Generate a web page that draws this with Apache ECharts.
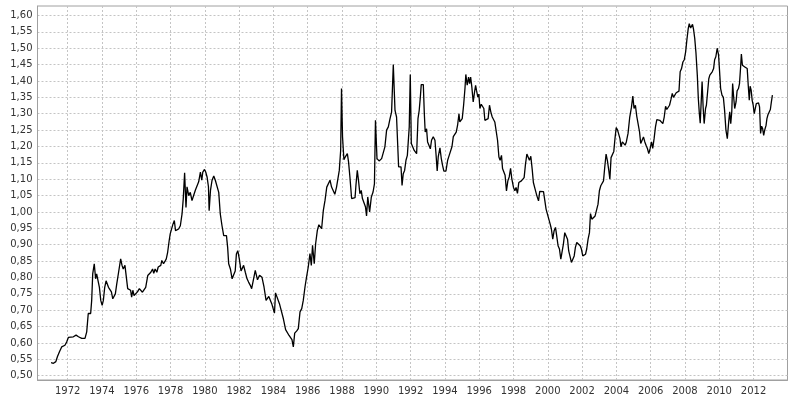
<!DOCTYPE html>
<html>
<head>
<meta charset="utf-8">
<script src="https://cdn.jsdelivr.net/npm/echarts@6/dist/echarts.min.js"></script>
<style>
  html, body { margin: 0; padding: 0; background: #fff; }
  #chart { width: 795px; height: 400px; }
</style>
</head>
<body>
<div id="chart"></div>
<script>
// tick labels
var xTicks = [1972, 1974, 1976, 1978, 1980, 1982, 1984, 1986, 1988, 1990, 1992,
  1994, 1996, 1998, 2000, 2002, 2004, 2006, 2008, 2010, 2012];
var yTicks = [0.50, 0.55, 0.60, 0.65, 0.70, 0.75, 0.80, 0.85, 0.90, 0.95, 1.00,
  1.05, 1.10, 1.15, 1.20, 1.25, 1.30, 1.35, 1.40, 1.45, 1.50, 1.55, 1.60];

// readings, decimal year / value
var years1971 = [1971.03, 1971.17, 1971.31, 1971.40, 1971.52, 1971.65, 1971.75, 1971.84, 1971.94, 1972.04,
  1972.14, 1972.33, 1972.43, 1972.49, 1972.63, 1972.72, 1972.82, 1972.92, 1973.01, 1973.11,
  1973.20, 1973.34, 1973.40, 1973.46, 1973.55, 1973.63, 1973.69, 1973.77, 1973.85, 1973.93,
  1974.01, 1974.08, 1974.16, 1974.24, 1974.30, 1974.38, 1974.46, 1974.55, 1974.63, 1974.71,
  1974.78, 1974.86, 1974.96, 1975.09, 1975.17, 1975.24, 1975.34, 1975.44, 1975.50, 1975.58,
  1975.67, 1975.73, 1975.80, 1975.87, 1975.97, 1976.07, 1976.18, 1976.26, 1976.36, 1976.45,
  1976.55, 1976.61, 1976.67, 1976.75, 1976.85, 1976.95, 1977.02, 1977.10, 1977.20, 1977.28,
  1977.36, 1977.43, 1977.49, 1977.59, 1977.67, 1977.75, 1977.83, 1977.92, 1977.98, 1978.06,
  1978.14, 1978.22, 1978.29, 1978.37, 1978.47, 1978.57, 1978.67, 1978.74, 1978.82, 1978.90,
  1978.96, 1979.06, 1979.15, 1979.25, 1979.35, 1979.45, 1979.54, 1979.64, 1979.74, 1979.82,
  1979.88, 1979.98, 1980.05, 1980.13, 1980.21, 1980.25, 1980.33, 1980.42, 1980.52, 1980.61,
  1980.71, 1980.81, 1980.90];
var rates1971 = [0.540, 0.538, 0.543, 0.558, 0.573, 0.588, 0.588, 0.593, 0.603, 0.617,
  0.619, 0.619, 0.619, 0.624, 0.619, 0.616, 0.614, 0.617, 0.614, 0.634,
  0.690, 0.690, 0.730, 0.811, 0.842, 0.796, 0.811, 0.806, 0.770, 0.730,
  0.715, 0.730, 0.770, 0.790, 0.796, 0.770, 0.766, 0.756, 0.735, 0.735,
  0.750, 0.780, 0.813, 0.857, 0.837, 0.826, 0.837, 0.832, 0.766, 0.761,
  0.761, 0.740, 0.761, 0.745, 0.750, 0.756, 0.766, 0.769, 0.755, 0.755,
  0.770, 0.773, 0.806, 0.811, 0.816, 0.826, 0.813, 0.826, 0.816, 0.832,
  0.832, 0.837, 0.852, 0.842, 0.849, 0.857, 0.877, 0.913, 0.933, 0.928,
  0.963, 0.974, 0.943, 0.938, 0.948, 0.958, 0.994, 1.040, 1.120, 1.014,
  1.077, 1.050, 1.060, 1.035, 1.030, 1.067, 1.072, 1.092, 1.122, 1.097,
  1.122, 1.130, 1.122, 1.107, 1.077, 1.004, 1.067, 1.097, 1.110, 1.097,
  1.092, 1.060, 0.994];

var years1981 = [1981.00, 1981.10, 1981.18, 1981.26, 1981.33, 1981.39, 1981.49, 1981.59, 1981.68, 1981.77,
  1981.84, 1981.92, 1982.01, 1982.11, 1982.18, 1982.26, 1982.36, 1982.46, 1982.55, 1982.65,
  1982.73, 1982.84, 1982.94, 1983.07, 1983.19, 1983.33, 1983.45, 1983.57, 1983.65, 1983.73,
  1983.84, 1983.90, 1984.00, 1984.06, 1984.12, 1984.23, 1984.35, 1984.45, 1984.58, 1984.63,
  1984.71, 1984.81, 1984.91, 1985.01, 1985.08, 1985.16, 1985.24, 1985.36, 1985.45, 1985.55,
  1985.65, 1985.74, 1985.84, 1985.93, 1986.03, 1986.13, 1986.21, 1986.28, 1986.38, 1986.46,
  1986.56, 1986.65, 1986.75, 1986.81, 1986.91, 1987.01, 1987.11, 1987.20, 1987.30, 1987.39,
  1987.49, 1987.58, 1987.68, 1987.78, 1987.84, 1987.92, 1987.97, 1988.03, 1988.11, 1988.21,
  1988.31, 1988.38, 1988.46, 1988.56, 1988.66, 1988.76, 1988.81, 1988.89, 1988.96, 1989.04,
  1989.12, 1989.19, 1989.27, 1989.37, 1989.43, 1989.50, 1989.61, 1989.71, 1989.81, 1989.89,
  1989.95, 1990.04, 1990.16];
var rates1981 = [0.958, 0.928, 0.923, 0.928, 0.892, 0.842, 0.826, 0.796, 0.796, 0.820,
  0.872, 0.882, 0.857, 0.820, 0.816, 0.837, 0.816, 0.796, 0.786, 0.776,
  0.766, 0.766, 0.822, 0.793, 0.807, 0.801, 0.771, 0.730, 0.725, 0.742,
  0.740, 0.720, 0.715, 0.691, 0.753, 0.753, 0.720, 0.715, 0.674, 0.674,
  0.641, 0.647, 0.623, 0.620, 0.610, 0.588, 0.630, 0.637, 0.644, 0.695,
  0.705, 0.730, 0.771, 0.801, 0.832, 0.873, 0.837, 0.898, 0.842, 0.903,
  0.944, 0.961, 0.962, 0.949, 1.005, 1.036, 1.076, 1.081, 1.097, 1.076,
  1.071, 1.054, 1.076, 1.081, 1.127, 1.188, 1.377, 1.229, 1.160, 1.170,
  1.178, 1.153, 1.107, 1.041, 1.044, 1.044, 1.081, 1.127, 1.097, 1.056,
  1.066, 1.041, 1.041, 1.015, 0.988, 1.046, 1.000, 1.046, 1.061, 1.086,
  1.280, 1.163, 1.156];

var years1990 = [1990.21, 1990.31, 1990.41, 1990.50, 1990.60, 1990.70, 1990.80, 1990.89, 1990.99, 1991.09,
  1991.18, 1991.24, 1991.30, 1991.38, 1991.44, 1991.50, 1991.57, 1991.65, 1991.73, 1991.81,
  1991.86, 1991.92, 1991.98, 1992.04, 1992.12, 1992.21, 1992.29, 1992.35, 1992.43, 1992.50,
  1992.56, 1992.62, 1992.74, 1992.80, 1992.85, 1992.93, 1992.99, 1993.07, 1993.15, 1993.22,
  1993.32, 1993.42, 1993.48, 1993.55, 1993.61, 1993.71, 1993.79, 1993.86, 1993.94, 1994.06,
  1994.16, 1994.25, 1994.33, 1994.41, 1994.49, 1994.58, 1994.66, 1994.74, 1994.82, 1994.87,
  1994.95, 1995.01, 1995.09, 1995.17, 1995.22, 1995.30, 1995.38, 1995.44, 1995.50, 1995.57,
  1995.65, 1995.73, 1995.79, 1995.84, 1995.92, 1995.98, 1996.04, 1996.12, 1996.19, 1996.27,
  1996.33, 1996.43, 1996.52, 1996.60, 1996.68, 1996.76, 1996.82, 1996.91, 1997.01, 1997.07,
  1997.15, 1997.22, 1997.30, 1997.36, 1997.44, 1997.51, 1997.59, 1997.67, 1997.75, 1997.83,
  1997.90, 1998.00, 1998.08, 1998.15, 1998.23, 1998.31, 1998.39, 1998.46, 1998.54, 1998.62,
  1998.70, 1998.78, 1998.85, 1998.93, 1999.01, 1999.09, 1999.16, 1999.26, 1999.36, 1999.46,
  1999.53, 1999.63, 1999.75, 1999.83, 1999.90, 1999.98];
var rates1990 = [1.160, 1.163, 1.158, 1.199, 1.250, 1.260, 1.285, 1.305, 1.450, 1.310,
  1.290, 1.285, 1.138, 1.133, 1.138, 1.081, 1.117, 1.127, 1.158, 1.173,
  1.168, 1.260, 1.420, 1.209, 1.199, 1.188, 1.183, 1.178, 1.285, 1.310,
  1.346, 1.389, 1.389, 1.300, 1.244, 1.254, 1.214, 1.219, 1.193, 1.219,
  1.230, 1.219, 1.178, 1.125, 1.168, 1.196, 1.163, 1.143, 1.125, 1.125,
  1.158, 1.173, 1.178, 1.199, 1.230, 1.234, 1.244, 1.265, 1.300, 1.275,
  1.270, 1.285, 1.326, 1.377, 1.420, 1.387, 1.412, 1.392, 1.412, 1.382,
  1.336, 1.367, 1.387, 1.372, 1.351, 1.360, 1.316, 1.329, 1.326, 1.316,
  1.280, 1.280, 1.285, 1.326, 1.305, 1.290, 1.285, 1.275, 1.275, 1.219,
  1.168, 1.158, 1.173, 1.133, 1.138, 1.112, 1.064, 1.095, 1.107, 1.133,
  1.102, 1.075, 1.065, 1.075, 1.057, 1.090, 1.085, 1.095, 1.090, 1.105,
  1.146, 1.177, 1.179, 1.158, 1.170, 1.131, 1.090, 1.070, 1.050, 1.034,
  1.063, 1.065, 1.062, 1.034, 1.009, 1.004];

var years2000 = [2000.06, 2000.14, 2000.21, 2000.29, 2000.37, 2000.45, 2000.52, 2000.60, 2000.68, 2000.76,
  2000.84, 2000.91, 2000.99, 2001.07, 2001.15, 2001.22, 2001.30, 2001.38, 2001.46, 2001.54,
  2001.61, 2001.69, 2001.79, 2001.89, 2001.96, 2002.04, 2002.12, 2002.20, 2002.27, 2002.35,
  2002.43, 2002.49, 2002.57, 2002.66, 2002.76, 2002.86, 2002.93, 2003.01, 2003.09, 2003.17,
  2003.25, 2003.32, 2003.40, 2003.48, 2003.56, 2003.62, 2003.69, 2003.77, 2003.85, 2003.92,
  2003.99, 2004.07, 2004.14, 2004.21, 2004.27, 2004.35, 2004.43, 2004.51, 2004.58, 2004.68,
  2004.78, 2004.88, 2004.96, 2005.03, 2005.11, 2005.19, 2005.27, 2005.35, 2005.42, 2005.50,
  2005.58, 2005.66, 2005.73, 2005.81, 2005.89, 2005.97, 2006.05, 2006.12, 2006.20, 2006.28,
  2006.36, 2006.44, 2006.53, 2006.63, 2006.71, 2006.79, 2006.87, 2006.94, 2007.02, 2007.10,
  2007.18, 2007.26, 2007.33, 2007.41, 2007.49, 2007.57, 2007.65, 2007.72, 2007.80, 2007.88,
  2007.96, 2008.04, 2008.11, 2008.19, 2008.25, 2008.33, 2008.39, 2008.44, 2008.50, 2008.57,
  2008.64, 2008.72, 2008.78, 2008.84, 2008.89, 2008.95];
var rates2000 = [0.978, 0.963, 0.948, 0.917, 0.943, 0.953, 0.927, 0.897, 0.887, 0.856,
  0.860, 0.902, 0.937, 0.932, 0.917, 0.881, 0.876, 0.846, 0.846, 0.866,
  0.892, 0.907, 0.902, 0.897, 0.887, 0.866, 0.866, 0.871, 0.887, 0.917,
  0.937, 0.995, 0.978, 0.983, 0.988, 0.993, 1.024, 1.065, 1.080, 1.085,
  1.095, 1.136, 1.177, 1.156, 1.126, 1.100, 1.166, 1.162, 1.185, 1.225,
  1.258, 1.250, 1.248, 1.224, 1.199, 1.214, 1.219, 1.204, 1.214, 1.240,
  1.290, 1.320, 1.354, 1.316, 1.326, 1.292, 1.290, 1.245, 1.209, 1.214,
  1.229, 1.214, 1.204, 1.194, 1.178, 1.194, 1.214, 1.194, 1.224, 1.260,
  1.282, 1.282, 1.280, 1.282, 1.270, 1.290, 1.323, 1.313, 1.311, 1.326,
  1.343, 1.362, 1.350, 1.354, 1.364, 1.367, 1.369, 1.428, 1.438, 1.458,
  1.465, 1.489, 1.525, 1.560, 1.575, 1.562, 1.560, 1.573, 1.558, 1.530,
  1.487, 1.418, 1.346, 1.300, 1.271, 1.272];

var years2009 = [2009.00, 2009.06, 2009.12, 2009.20, 2009.25, 2009.31, 2009.39, 2009.45, 2009.53, 2009.59,
  2009.67, 2009.73, 2009.80, 2009.88, 2009.96, 2010.02, 2010.08, 2010.16, 2010.24, 2010.31,
  2010.39, 2010.47, 2010.55, 2010.61, 2010.67, 2010.73, 2010.78, 2010.84, 2010.90, 2010.98,
  2011.04, 2011.12, 2011.18, 2011.24, 2011.29, 2011.35, 2011.43, 2011.49, 2011.57, 2011.63,
  2011.69, 2011.75, 2011.80, 2011.86, 2011.92, 2011.98, 2012.04, 2012.10, 2012.16, 2012.22,
  2012.29, 2012.35, 2012.41, 2012.47, 2012.53, 2012.59, 2012.65, 2012.73, 2012.78, 2012.84,
  2012.92, 2012.98, 2013.04, 2013.10];
var rates2009 = [1.398, 1.320, 1.270, 1.316, 1.326, 1.323, 1.407, 1.418, 1.413, 1.428,
  1.438, 1.465, 1.474, 1.500, 1.479, 1.428, 1.377, 1.357, 1.350, 1.311,
  1.250, 1.224, 1.275, 1.306, 1.270, 1.306, 1.392, 1.351, 1.316, 1.336,
  1.370, 1.377, 1.392, 1.438, 1.482, 1.448, 1.453, 1.443, 1.438, 1.438,
  1.387, 1.341, 1.384, 1.372, 1.341, 1.326, 1.300, 1.316, 1.331, 1.336,
  1.333, 1.321, 1.240, 1.262, 1.255, 1.234, 1.250, 1.265, 1.285, 1.297,
  1.298, 1.313, 1.336, 1.357];

var years = years1971.concat(years1981, years1990, years2000, years2009);
var rates = rates1971.concat(rates1981, rates1990, rates2000, rates2009);
var points = years.map(function (y, i) { return [y, rates[i]]; });

var chart = echarts.init(document.getElementById('chart'));

var labelFont = {
  color: '#333',
  fontSize: 10,
  fontFamily: 'DejaVu Sans'
};
var gridLine = {
  show: true,
  lineStyle: { color: '#c4c4c4', width: 1, type: [2, 2] }
};

var option = {
  animation: false,
  backgroundColor: '#fff',
  grid: {
    left: 37.5,
    right: 7.5,
    top: 6,
    bottom: 20,
    show: true,
    borderColor: '#a0a0a0',
    borderWidth: 1
  },
  xAxis: {
    type: 'value',
    min: 1970.24,
    max: 2013.98,
    axisLine: { show: true, lineStyle: { color: '#a0a0a0' } },
    axisTick: { show: false, customValues: xTicks },
    axisLabel: Object.assign({
      customValues: xTicks,
      margin: 6,
      formatter: function (v) { return String(v); }
    }, labelFont),
    splitLine: gridLine
  },
  yAxis: {
    type: 'value',
    min: 0.487,
    max: 1.629,
    axisLine: { show: true, lineStyle: { color: '#a0a0a0' } },
    axisTick: { show: false, customValues: yTicks },
    axisLabel: Object.assign({
      customValues: yTicks,
      margin: 5,
      formatter: function (v) { return v.toFixed(2).replace('.', ','); }
    }, labelFont),
    splitLine: gridLine
  },
  series: [
    {
      type: 'line',
      data: points,
      showSymbol: false,
      lineStyle: { color: '#000', width: 1.3 },
      silent: true
    }
  ]
};

chart.setOption(option);
</script>
</body>
</html>
